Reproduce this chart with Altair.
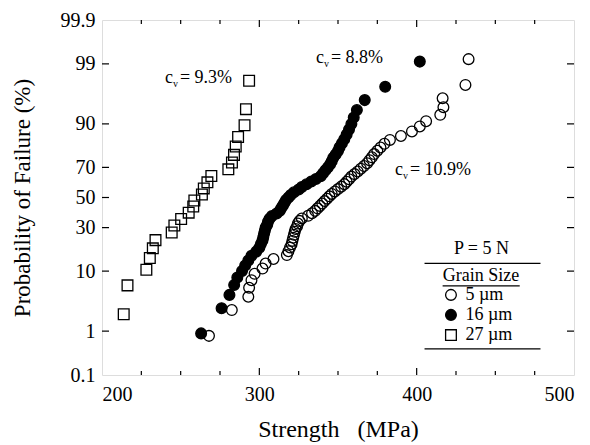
import altair as alt
import pandas as pd
from statistics import NormalDist

# ---------------- data ----------------
grain_labels = ["5 µm", "16 µm", "27 µm"]

# 27 µm (open squares)
sq_strength = [213.8, 216.2, 228.2, 230.4, 232.3, 234.0, 244.3, 246.0, 250.3, 255.1, 258.0, 258.7,
               263.5, 264.7, 267.0, 269.5, 280.3, 282.6, 283.9, 285.0, 286.5, 290.6, 291.5, 293.5]
sq_prob = [2.1, 6.3, 10.4, 14.6, 18.8, 22.9, 27.1, 31.3, 35.4, 39.6, 43.8, 47.9,
           52.1, 56.3, 60.4, 64.6, 68.8, 72.9, 77.1, 81.3, 85.4, 89.6, 93.8, 97.9]

# 16 µm (filled circles)
fc_strength = [263, 276, 281, 284, 286, 289, 291, 293, 295, 298, 300, 301, 302, 302.5, 303,
               303.5, 304, 305, 305.5, 306.5, 308, 311, 313, 314, 315, 316, 317, 318.5, 320, 322,
               325, 327, 330, 333, 336, 339, 340.5, 342, 343.5, 345, 346, 347, 348.5, 350, 351,
               352.5, 354, 355.5, 357, 358.5, 360, 362, 367, 380, 402]
fc_prob = [0.9, 2.7, 4.5, 6.4, 8.2, 10.0, 11.8, 13.6, 15.5, 17.3, 19.1, 20.9, 22.7, 24.5, 26.4,
           28.2, 30.0, 31.8, 33.6, 35.5, 37.3, 39.1, 40.9, 42.7, 44.5, 46.4, 48.2, 50.0, 51.8, 53.6,
           55.5, 57.3, 59.1, 60.9, 62.7, 64.5, 66.4, 68.2, 70.0, 71.8, 73.6, 75.5, 77.3, 79.1, 80.9,
           82.7, 84.5, 86.4, 88.2, 90.0, 91.8, 93.6, 95.5, 97.3, 99.1]

# 5 µm (open circles)
oc_strength = [268, 282.5, 293, 293.5, 295, 297, 302, 304, 309, 317.5, 318.5, 319.5, 320.5, 321,
               321.5, 322, 322.5, 323, 324, 324.5, 325.5, 327, 331, 333.5, 335.5, 337, 338.5, 340,
               341.5, 343, 344.5, 346, 348, 350, 352, 354, 355.5, 357, 358.5, 360.5, 362.5, 364.5,
               366.5, 368.5, 370, 371.5, 373, 375, 377, 379.5, 383, 390, 397, 402, 406, 415, 417,
               416.5, 431, 433]
oc_prob = [0.8, 2.5, 4.2, 5.8, 7.5, 9.2, 10.8, 12.5, 14.2, 15.8, 17.5, 19.2, 20.8, 22.5, 24.2,
           25.8, 27.5, 29.2, 30.8, 32.5, 34.2, 35.8, 37.5, 39.2, 40.8, 42.5, 44.2, 45.8, 47.5, 49.2,
           50.8, 52.5, 54.2, 55.8, 57.5, 59.2, 60.8, 62.5, 64.2, 65.8, 67.5, 69.2, 70.8, 72.5, 74.2,
           75.8, 77.5, 79.2, 80.8, 82.5, 84.2, 85.8, 87.5, 89.2, 90.8, 92.5, 94.2, 95.8, 97.5, 99.2]

# axes
x_major = [200, 300, 400, 500]
x_minor = [225, 250, 275, 325, 350, 375, 425, 450, 475]
y_tick_labels = ["0.1", "1", "10", "30", "50", "70", "90", "99", "99.9"]
y_tick_probs = [0.1, 1, 10, 30, 50, 70, 90, 99, 99.9]

# annotations (c_v values)
cv_text = ["= 9.3%", "= 8.8%", "= 10.9%"]
cv_strength = [240.0, 336.0, 386.2]
cv_prob = [98.1, 99.25, 68.4]

# legend box (placed in data coordinates)
box_texts = ["P = 5 N", "Grain Size"]
box_text_strength = [441.2, 440.9]
box_text_prob = [18.7, 8.6]
box_line_start = [405.0, 405.0, 416.5]
box_line_end = [478.7, 478.7, 465.5]
box_line_prob = [12.6, 0.42, 6.2]
legend_symbol_strength = 421.8
legend_label_strength = 431.0
legend_row_prob = [4.5, 2.05, 0.83]

# ---------------- helpers ----------------
nd = NormalDist()


def zval(p):
    return nd.inv_cdf(p / 100.0)


W, H = 472, 355
FONT = "Liberation Serif"
zmin, zmax = zval(0.1), zval(99.9)

y_tick_z = [zval(p) for p in y_tick_probs]
expr = "'" + y_tick_labels[-1] + "'"
for i in range(len(y_tick_z) - 2, -1, -1):
    mid = (y_tick_z[i] + y_tick_z[i + 1]) / 2
    expr = f"datum.value < {mid:.4f} ? '{y_tick_labels[i]}' : (" + expr + ")"

xscale = alt.Scale(domain=[200, 500], nice=False, zero=False)
yscale = alt.Scale(domain=[zmin, zmax], nice=False, zero=False)
xaxis = alt.Axis(values=x_major, ticks=False, tickSize=0, domain=False, grid=False,
                 labelFont=FONT, labelFontSize=20, labelColor="black", labelPadding=9,
                 title="Strength\u00a0\u00a0 (MPa)", titleFont=FONT, titleFontSize=24,
                 titleFontWeight="normal", titleColor="black", titlePadding=13)
yaxis = alt.Axis(values=y_tick_z, labelExpr=expr, ticks=False, tickSize=0, domain=False,
                 grid=False, labelFont=FONT, labelFontSize=20, labelColor="black",
                 labelPadding=7, title="Probability of Failure  (%)", titleFont=FONT,
                 titleFontSize=23, titleFontWeight="normal", titleColor="black",
                 titlePadding=26)

X = alt.X("strength:Q", scale=xscale, axis=xaxis)
Y = alt.Y("z:Q", scale=yscale, axis=yaxis)

shape_scale = alt.Scale(domain=grain_labels, range=["circle", "circle", "square"])
fill_scale = alt.Scale(domain=grain_labels, range=["transparent", "black", "transparent"])
size_scale = alt.Scale(domain=grain_labels, range=[115, 115, 125])

rows = []
for s, p in zip(oc_strength, oc_prob):
    rows.append({"strength": s, "z": zval(p), "grain": grain_labels[0]})
for s, p in zip(fc_strength, fc_prob):
    rows.append({"strength": s, "z": zval(p), "grain": grain_labels[1]})
for s, p in zip(sq_strength, sq_prob):
    rows.append({"strength": s, "z": zval(p), "grain": grain_labels[2]})
pts = pd.DataFrame(rows)

point_enc = dict(
    x=X, y=Y,
    shape=alt.Shape("grain:N", scale=shape_scale, legend=None),
    fill=alt.Fill("grain:N", scale=fill_scale, legend=None),
    size=alt.Size("grain:N", scale=size_scale, legend=None),
)
pt_style = dict(filled=True, stroke="black", strokeWidth=1.3, opacity=1)
points = alt.Chart(pts).mark_point(**pt_style).encode(**point_enc)

# inward ticks
xmaj = pd.DataFrame({"strength": x_major[1:-1]})
xmin_ = pd.DataFrame({"strength": x_minor})
yt = pd.DataFrame({"z": y_tick_z[1:-1]})
tick_style = dict(color="black", strokeWidth=1.2)
ticks = [
    alt.Chart(xmaj).mark_rule(**tick_style).encode(x=X, y=alt.value(H), y2=alt.value(H - 7)),
    alt.Chart(xmaj).mark_rule(**tick_style).encode(x=X, y=alt.value(0), y2=alt.value(7)),
    alt.Chart(xmin_).mark_rule(**tick_style).encode(x=X, y=alt.value(H), y2=alt.value(H - 4)),
    alt.Chart(xmin_).mark_rule(**tick_style).encode(x=X, y=alt.value(0), y2=alt.value(4)),
    alt.Chart(yt).mark_rule(**tick_style).encode(y=Y, x=alt.value(0), x2=alt.value(7)),
    alt.Chart(yt).mark_rule(**tick_style).encode(y=Y, x=alt.value(W), x2=alt.value(W - 7)),
]

# c_v annotations
cv = pd.DataFrame({"strength": cv_strength, "z": [zval(p) for p in cv_prob], "t": cv_text})
txt = dict(font=FONT, fontSize=18, color="black", baseline="middle", align="left")
ann = [
    alt.Chart(cv).mark_text(text="c", **txt).encode(x=X, y=Y),
    alt.Chart(cv).mark_text(text="v", dx=8, dy=6, font=FONT, fontSize=10, color="black",
                            baseline="middle", align="left").encode(x=X, y=Y),
    alt.Chart(cv).mark_text(dx=15, **txt).encode(x=X, y=Y, text="t:N"),
]

# legend box
bt = pd.DataFrame({"strength": box_text_strength, "z": [zval(p) for p in box_text_prob],
                   "t": box_texts})
bl = pd.DataFrame({"strength": box_line_start, "strength2": box_line_end,
                   "z": [zval(p) for p in box_line_prob]})
lg_sym = pd.DataFrame({"strength": [legend_symbol_strength] * 3,
                       "z": [zval(p) for p in legend_row_prob], "grain": grain_labels})
lg_lab = pd.DataFrame({"strength": [legend_label_strength] * 3,
                       "z": [zval(p) for p in legend_row_prob], "t": grain_labels})
box = [
    alt.Chart(bt).mark_text(font=FONT, fontSize=18, color="black", baseline="middle",
                            align="center").encode(x=X, y=Y, text="t:N"),
    alt.Chart(bl).mark_rule(color="black", strokeWidth=1.2).encode(x=X, x2="strength2:Q", y=Y),
    alt.Chart(lg_sym).mark_point(**pt_style).encode(**point_enc),
    alt.Chart(lg_lab).mark_text(font=FONT, fontSize=18, color="black", baseline="middle",
                                align="left").encode(x=X, y=Y, text="t:N"),
]

chart = alt.layer(points, *ticks, *ann, *box).properties(
    width=W, height=H,
    autosize=alt.AutoSizeParams(type="none"),
    padding={"left": 102, "top": 20, "right": 16, "bottom": 70},
).configure_view(stroke="black", strokeWidth=1.3).configure(background="white")

chart.save("out.html", embed_options={"renderer": "svg", "actions": False})
